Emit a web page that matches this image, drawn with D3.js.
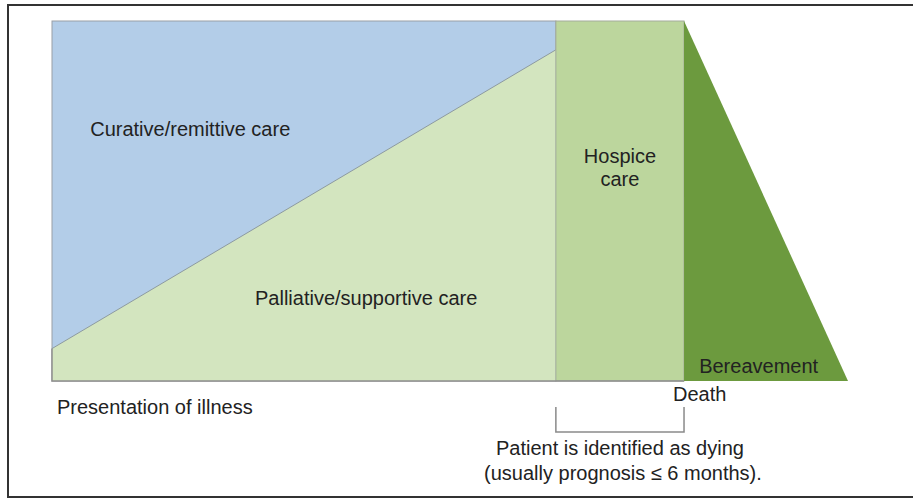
<!DOCTYPE html>
<html>
<head>
<meta charset="utf-8">
<script src="https://cdn.jsdelivr.net/npm/d3@7"></script>
<style>
  body { margin: 0; background: #fff; }
  svg text { font-family: "Liberation Sans", Arial, sans-serif; font-size: 20px; fill: #222; }
</style>
</head>
<body>
<div id="chart"></div>
<script>
// time axis (notional units, 0 = presentation of illness, 100 = end of bereavement)
const milestones = ['presentation', 'dying', 'death', 'bereavementEnd'];
const milestoneTime = [0, 63.3, 79.4, 100];
// share of care that is palliative (%) at presentation and when identified as dying
const palliativeShare = [9, 92];
const careLabels = ['Curative/remittive care', 'Palliative/supportive care', 'Hospice', 'care', 'Bereavement'];
const timelineLabels = ['Presentation of illness', 'Death'];
const noteLines = ['Patient is identified as dying', '(usually prognosis \u2264 6 months).'];

const width = 914, height = 498;
const svg = d3.select('#chart').append('svg')
    .attr('width', width)
    .attr('height', height);

const t = d3.scaleLinear().domain([0, 100]).range([52, 848]);
const y = d3.scaleLinear().domain([0, 100]).range([381, 21]);

const t0 = milestoneTime[0], t1 = milestoneTime[1], t2 = milestoneTime[2], t3 = milestoneTime[3];

// frame
const frame = svg.append('g').attr('stroke', '#333').attr('stroke-width', 2).attr('fill', 'none');
frame.append('path').attr('d', `M913,5 H8 V497 H913`);

const area = svg.append('g');

// curative (whole block up to dying)
area.append('rect')
    .attr('x', t(t0)).attr('y', y(100))
    .attr('width', t(t1) - t(t0)).attr('height', y(0) - y(100))
    .attr('fill', '#b3cde8')
    .attr('stroke', '#9a9fa6').attr('stroke-width', 1);

// palliative wedge
const poly = d3.line().x(d => t(d[0])).y(d => y(d[1]));
area.append('path')
    .attr('d', poly([[t0, 0], [t0, palliativeShare[0]], [t1, palliativeShare[1]], [t1, 0]]) + 'Z')
    .attr('fill', '#d3e5bf');
area.append('path')
    .attr('d', poly([[t0, palliativeShare[0]], [t1, palliativeShare[1]]]))
    .attr('fill', 'none').attr('stroke', '#8d9aa0').attr('stroke-width', 1);

// hospice
area.append('rect')
    .attr('x', t(t1)).attr('y', y(100))
    .attr('width', t(t2) - t(t1)).attr('height', y(0) - y(100))
    .attr('fill', '#bcd69d')
    .attr('stroke', '#a3ab9c').attr('stroke-width', 1);

// bereavement
area.append('path')
    .attr('d', poly([[t2, 100], [t3, 0], [t2, 0]]) + 'Z')
    .attr('fill', '#6c9a3e');

// baseline and left edge
area.append('path')
    .attr('d', `M${t(t0)},${y(palliativeShare[0])} V${y(0)} H${t(t2)}`)
    .attr('fill', 'none').attr('stroke', '#8e8e8e').attr('stroke-width', 1.5);

// labels
const txt = svg.append('g');
txt.append('text').attr('x', t(4.8)).attr('y', y(68)).text(careLabels[0]);
txt.append('text').attr('x', t(25.5)).attr('y', y(21.1)).text(careLabels[1]);
txt.append('text').attr('x', (t(t1) + t(t2)) / 2).attr('y', 163).attr('text-anchor', 'middle').text(careLabels[2]);
txt.append('text').attr('x', (t(t1) + t(t2)) / 2).attr('y', 186).attr('text-anchor', 'middle').text(careLabels[3]);
txt.append('text').attr('x', t(81.3)).attr('y', y(2.2)).text(careLabels[4]);

txt.append('text').attr('x', t(t0) + 5).attr('y', y(0) + 33).text(timelineLabels[0]);
txt.append('text').attr('x', t(t2) - 11).attr('y', y(0) + 20).text(timelineLabels[1]);

// bracket for the dying phase
svg.append('path')
    .attr('d', `M${t(t1)},407 V432 H${t(t2)} V407`)
    .attr('fill', 'none').attr('stroke', '#8a8a8a').attr('stroke-width', 1.5);

const cx = (t(t1) + t(t2)) / 2;
noteLines.forEach((s, i) => {
    txt.append('text').attr('x', cx + (i ? 3 : 0)).attr('y', 455 + i * 25)
        .attr('text-anchor', 'middle').text(s);
});
</script>
</body>
</html>
